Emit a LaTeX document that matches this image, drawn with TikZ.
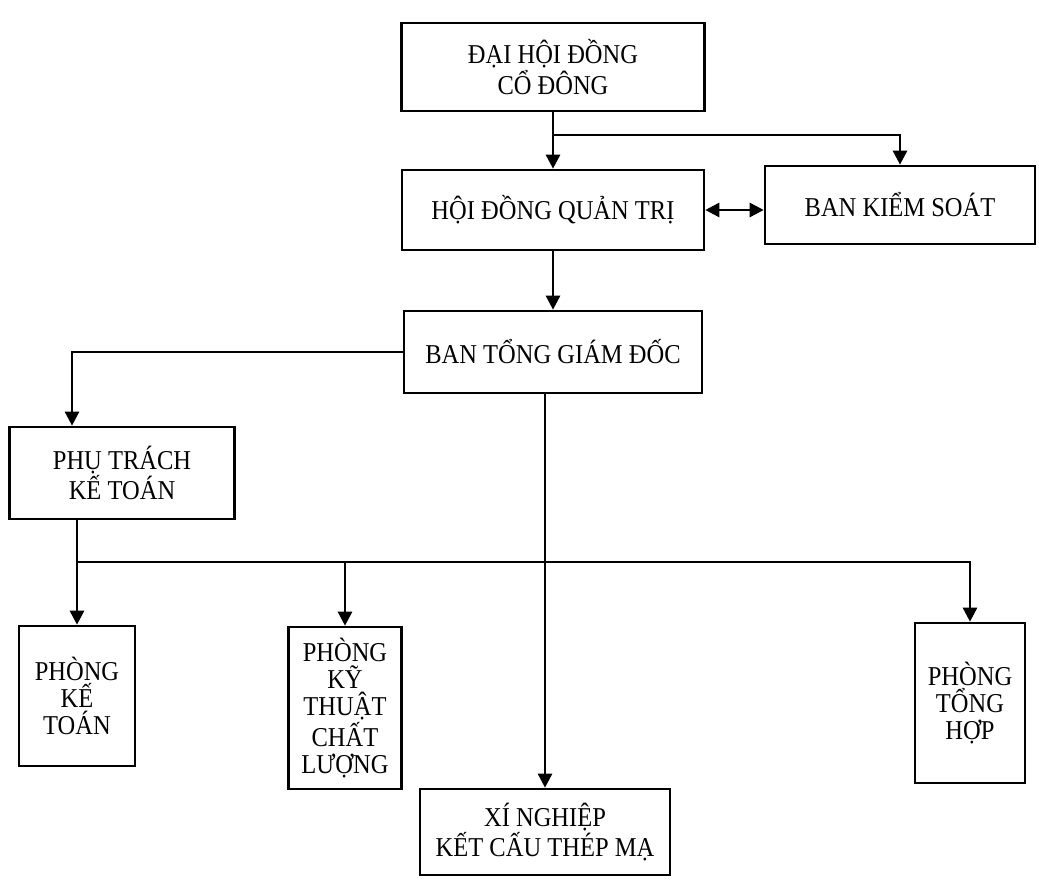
\documentclass[tikz,border=0pt]{standalone}
\usepackage{fontspec}
\setmainfont{Liberation Serif}[FakeStretch=0.9]
\usepackage{tikz}
\usetikzlibrary{arrows.meta,positioning}
\tikzset{
  obox/.style={rectangle, draw=black, fill=white, line width=1.5pt,
               align=center, inner sep=2pt, font=\fontsize{15.5}{15.5}\selectfont},
  oline/.style={line width=1.5pt, black},
  odir/.style ={oline, -{Triangle[length=8pt,width=8pt]}},
  odbl/.style ={oline, {Triangle[length=8pt,width=8pt]}-{Triangle[length=8pt,width=8pt]}},
}
\begin{document}
\begin{tikzpicture}[x=0.02cm, y=-0.02cm]
  \useasboundingbox (0,0) rectangle (1039,881);
  \node[obox, minimum width=6.06cm, minimum height=1.76cm] (dhcd) at (553,67)  {ĐẠI HỘI ĐỒNG\\CỔ ĐÔNG};
  \node[obox, minimum width=6.04cm, minimum height=1.6cm]  (hdqt) at (553,210) {HỘI ĐỒNG QUẢN TRỊ};
  \node[obox, minimum width=5.4cm,  minimum height=1.56cm] (bks)  at (900,205) {BAN KIỂM SOÁT};
  \node[obox, minimum width=5.96cm, minimum height=1.64cm] (btgd) at (553,352) {BAN TỔNG GIÁM ĐỐC};
  \node[obox, minimum width=4.5cm,  minimum height=1.84cm] (ptkt) at (122,473) {PHỤ TRÁCH\\KẾ TOÁN};
  \node[obox, minimum width=5.0cm,  minimum height=1.72cm] (xn)   at (545,832) {XÍ NGHIỆP\\KẾT CẤU THÉP MẠ};
  \node[obox, minimum width=2.32cm, minimum height=2.8cm]  (pkt)  at (77,696)  {PHÒNG\\KẾ\\TOÁN};
  \node[obox, minimum width=2.26cm, minimum height=3.24cm] (ktcl) at (345,708) {PHÒNG\\KỸ\\THUẬT\\CHẤT\\LƯỢNG};
  \node[obox, minimum width=2.2cm,  minimum height=3.2cm]  (pth)  at (970,703) {PHÒNG\\TỔNG\\HỢP};

  \draw[odir] (dhcd) -- (hdqt);
  \coordinate (tap) at (553,135);
  \draw[odir] (tap) -| (bks.north);
  \draw[odbl] (hdqt.east) -- (hdqt.east -| bks.west);
  \draw[odir] (hdqt) -- (btgd);
  \draw[odir] (btgd.west) -| ([xshift=-1cm]ptkt.north);
  \draw[odir] (btgd.south -| xn.north) -- (xn.north);
  \draw[odir] (ptkt.south -| pkt.north) -- (pkt.north);
  \coordinate (bus) at (77,562);
  \draw[odir] (bus) -| (pth.north);
  \draw[odir] (bus -| ktcl.north) -- (ktcl.north);
\end{tikzpicture}
\end{document}
